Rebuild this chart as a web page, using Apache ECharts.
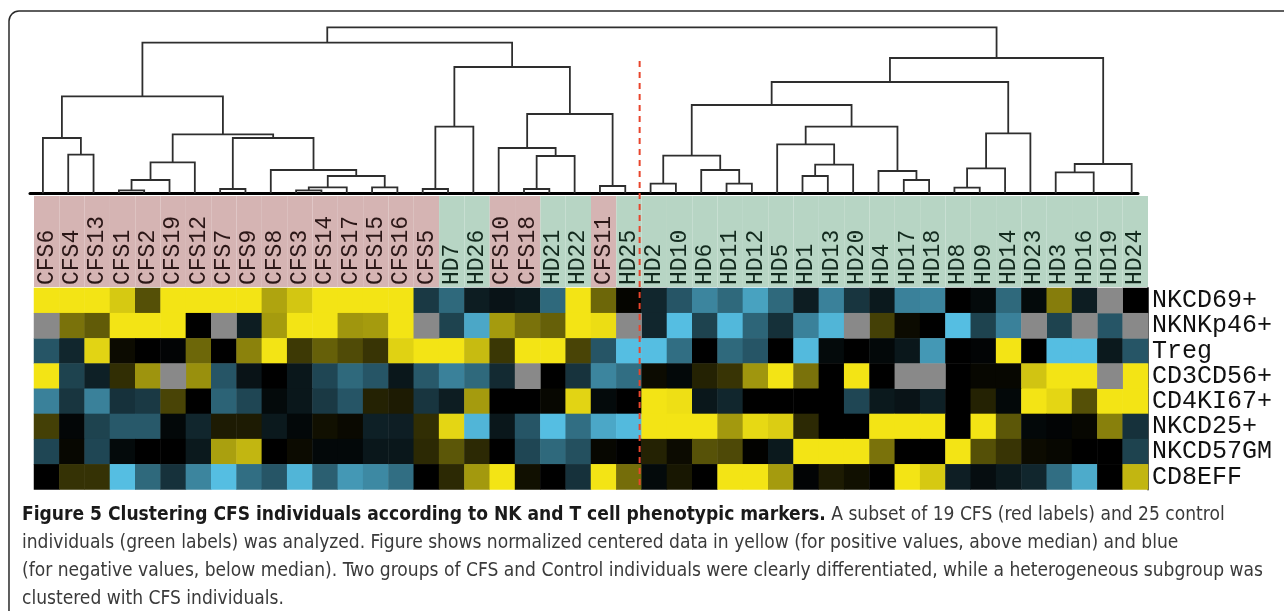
<!DOCTYPE html>
<html><head><meta charset="utf-8">
<script src="https://cdn.jsdelivr.net/npm/echarts@6/dist/echarts.min.js"></script>
<style>html,body{margin:0;padding:0;background:#fff}#c{width:1284px;height:611px}</style>
</head><body><div id="c"></div>
<script>
// ---------------- data ----------------
const samples = ['CFS6','CFS4','CFS13','CFS1','CFS2','CFS19','CFS12','CFS7','CFS9','CFS8','CFS3','CFS14','CFS17','CFS15','CFS16','CFS5','HD7','HD26','CFS10','CFS18','HD21','HD22','CFS11','HD25',
  'HD2','HD10','HD6','HD11','HD12','HD5','HD1','HD13','HD20','HD4','HD17','HD18','HD8','HD9','HD14','HD23','HD3','HD16','HD19','HD24'];
const markers = ['NKCD69+','NKNKp46+','Treg','CD3CD56+','CD4KI67+','NKCD25+','NKCD57GM','CD8EFF'];
// centred values: -1 = strongest below median (blue), +1 = strongest above (yellow), null = missing (grey)
const NKCD69   = [1,1,1,0.88,0.35,1,1,1,1,0.72,0.87,1,1,1,1,-0.3,-0.55,-0.15,-0.1,-0.13,-0.55,1,0.45,0.02,-0.2,-0.45,-0.7,-0.55,-0.85,-0.55,-0.15,-0.68,-0.28,-0.13,-0.68,-0.7,0,-0.05,-0.55,-0.05,0.55,-0.15,null,0];
const NKNKp46  = [null,0.5,0.4,1,1,1,0,null,-0.15,0.68,1,1,0.66,0.68,1,null,-0.35,-0.88,0.68,0.5,0.42,1,0.97,null,-0.2,-1,-0.35,-0.97,-0.53,-0.25,-0.68,-0.95,null,0.28,0.05,0,-1,-0.35,-0.68,null,-0.35,null,-0.45,null];
const Treg     = [-0.45,-0.2,0.93,0.05,0,-0.02,0.45,0,0.57,1,0.25,0.42,0.33,0.23,0.92,1,1,0.82,0.24,1,1,0.3,-0.45,-1,-1,-0.58,0,-0.55,-0.45,0,-0.98,-0.05,0,-0.04,-0.12,-0.8,0,-0.02,1,0,-1,-1,-0.13,-0.45];
const CD3CD56  = [1,-0.35,-0.17,0.2,0.65,null,0.63,-0.45,-0.1,0,-0.12,-0.37,-0.55,-0.45,-0.12,-0.47,-0.68,-0.55,-0.22,null,0,-0.27,-0.7,-0.58,0.05,-0.04,0.15,0.23,0.66,1,0.5,0,1,0,null,null,0,0.03,0.03,0.86,1,1,null,1];
const CD4KI67  = [-0.68,-0.28,-0.68,-0.26,-0.3,0.3,0,-0.52,-0.37,-0.05,-0.12,-0.3,-0.45,0.15,0.12,-0.28,-0.15,0.68,0,0,0.03,0.93,-0.05,0,1,0.98,-0.12,-0.2,0,0,0,0,-0.37,-0.13,-0.1,-0.17,0,0.15,-0.04,1,0.94,0.35,1,1];
const NKCD25   = [0.28,-0.03,-0.35,-0.47,-0.47,-0.04,-0.2,0.12,0.12,-0.13,-0.04,0.07,0.04,-0.17,-0.16,0.2,0.94,-0.95,-0.12,-0.45,-1,-0.58,-0.88,-0.98,1,1,1,0.67,0.95,0.9,0.18,0,0,1,1,1,0,1,0.38,-0.04,-0.02,0.03,0.56,-0.26];
const NKCD57GM = [-0.37,0.03,-0.37,-0.05,0,0,-0.13,0.7,0.8,0,0.05,-0.04,-0.04,-0.12,-0.12,0.18,0.38,0.18,0,-0.37,-0.55,-0.42,0.03,0,0.15,0.05,0.36,0.32,0.01,-0.13,1,1,1,0.5,0,0,1,0.35,0.23,0.05,0.03,0,0,-0.35];
const CD8EFF   = [0,0.22,0.22,-1,-0.55,-0.26,-0.7,-1,-0.58,-0.45,-0.95,-0.5,-0.8,-0.72,-0.58,0,0.18,0.67,1,0.07,0,-0.26,1,0.48,-0.05,0.1,0,1,1,0.68,-0.02,0.12,0.07,0,1,0.88,-0.16,-0.07,-0.13,-0.2,-0.58,-0.9,0,0.8];
const rows = [NKCD69,NKNKp46,Treg,CD3CD56,CD4KI67,NKCD25,NKCD57GM,CD8EFF];

// dendrogram: leaf positions (in column units) and merges [childA, childB, height]
const leafCols = [0,1,2,3,4,5,6,7,8,9,10,11,12,13,14,15,16,17,18,19,20,21,22,23,24,25,26,27,28,29,30,31,32,33,34,35,36,37,38,39,40,41.5,43];
const merges = [
  [1,2,38.6],[0,43,55.3],[3,4,3],[45,5,13.3],[46,6,31],[7,8,4.3],[10,11,3],[49,12,6],[13,14,6],[50,51,17.3],
  [9,52,23.3],[48,53,55.3],[47,54,59],[44,55,97],[15,16,4.3],[57,17,66.6],[19,20,4.3],[59,21,37.3],[18,60,45.3],[22,23,7.3],
  [61,62,79.3],[58,63,126.3],[56,64,150.6],
  [24,25,9.6],[27,28,9.6],[26,67,23.3],[66,68,37.6],[30,31,17.3],[70,32,28.6],[29,71,49],[34,35,13.3],[33,73,22.3],
  [72,74,66.6],[69,75,88.3],[36,37,5.6],[77,38,25],[78,39,60],[76,79,111.3],[40,41,21],[81,42,29.3],[80,82,135.3],[65,83,166]
];

const captionBold = 'Figure 5 Clustering CFS individuals according to NK and T cell phenotypic markers.';
const captionLines = [
  ' A subset of 19 CFS (red labels) and 25 control',
  'individuals (green labels) was analyzed. Figure shows normalized centered data in yellow (for positive values, above median) and blue',
  '(for negative values, below median). Two groups of CFS and Control individuals were clearly differentiated, while a heterogeneous subgroup was',
  'clustered with CFS individuals.'
];

// ---------------- build ----------------
const heat = [], missing = [];
rows.forEach((r, ri) => r.forEach((v, ci) => { if (v === null) missing.push([ci, ri, 0]); else heat.push([ci, ri, v]); }));

const nodeX = leafCols.slice(), nodeH = leafCols.map(() => 0);
const dendro = merges.map(([a, b, h]) => {
  const seg = { coords: [[nodeX[a], nodeH[a]], [nodeX[a], h], [nodeX[b], h], [nodeX[b], nodeH[b]]] };
  nodeX.push((nodeX[a] + nodeX[b]) / 2); nodeH.push(h);
  return seg;
});

const isCFS = s => s.indexOf('CFS') === 0;
const bandData = samples.map(s => ({
  value: 1, name: s,
  itemStyle: { color: isCFS(s) ? '#d5b4b3' : '#b7d5c4' },
  label: { color: isCFS(s) ? '#2b1717' : '#132a1e' }
}));

const mono = "'Liberation Mono','DejaVu Sans Mono',monospace";
const capFam = "'Liberation Sans Narrow','DejaVu Sans Condensed','Roboto Condensed',sans-serif";
function tw(str, font) { const c = document.createElement('canvas').getContext('2d'); c.font = font; return c.measureText(str).width; }
let capSize = 17;
capSize = capSize * 1242 / tw(captionLines[2], capSize + 'px ' + capFam);

const chart = echarts.init(document.getElementById('c'), null, { renderer: 'canvas' });
const HL = 34, HW = 1114;
chart.setOption({
  animation: false,
  backgroundColor: '#fff',
  grid: [
    { left: HL, width: HW, top: 288, height: 201.5 },
    { left: HL, width: HW, top: 196, height: 91 },
    { left: 30, width: 1108, top: 25.3, height: 168 }
  ],
  xAxis: [
    { gridIndex: 0, type: 'category', data: samples, show: false },
    { gridIndex: 1, type: 'category', data: samples, show: false },
    { gridIndex: 2, type: 'value', min: -0.51, max: 43.25, axisLine: { show: true, onZero: false, lineStyle: { color: '#000', width: 3 } },
      axisTick: { show: false }, axisLabel: { show: false }, splitLine: { show: false } }
  ],
  yAxis: [
    { gridIndex: 0, type: 'category', data: markers, inverse: true, position: 'right',
      axisLine: { show: true, lineStyle: { color: '#555', width: 2 } }, axisTick: { show: false },
      axisLabel: { interval: 0, fontFamily: mono, fontSize: 25, color: '#111', margin: 4 } },
    { gridIndex: 1, type: 'value', min: 0, max: 1, show: false },
    { gridIndex: 2, type: 'value', min: 0, max: 168, show: false }
  ],
  visualMap: { show: false, seriesIndex: 0, min: -1, max: 1, dimension: 2, inRange: { color: ['#55bee2', '#000000', '#f3e415'] } },
  series: [
    { type: 'heatmap', xAxisIndex: 0, yAxisIndex: 0, data: heat, silent: true, itemStyle: { borderWidth: 0 } },
    { type: 'heatmap', xAxisIndex: 0, yAxisIndex: 0, data: missing, silent: true, itemStyle: { color: '#898989', borderWidth: 0 } },
    { type: 'bar', xAxisIndex: 1, yAxisIndex: 1, data: bandData, barCategoryGap: '0%', silent: true,
      label: { show: true, position: 'insideBottom', rotate: 90, align: 'left', verticalAlign: 'middle', distance: 2,
        fontFamily: mono, fontSize: 23, formatter: p => p.name } },
    { type: 'lines', coordinateSystem: 'cartesian2d', xAxisIndex: 2, yAxisIndex: 2, polyline: true, silent: true,
      lineStyle: { color: '#2e2e2e', width: 1.8, opacity: 1 }, data: dendro }
  ]
});

const a = chart.convertToPixel({ xAxisIndex: 0 }, samples[23]);
const b = chart.convertToPixel({ xAxisIndex: 0 }, samples[24]);
const sepX = (a + b) / 2 - 2;
const capY = [515, 543, 571, 599];
chart.setOption({
  graphic: [
    { type: 'rect', z: 100, silent: true, shape: { x: 9, y: 11, width: 1300, height: 660, r: 10 }, style: { fill: 'none', stroke: '#2a2a2a', lineWidth: 1.5 } },
    { type: 'line', z: 100, silent: true, shape: { x1: sepX, y1: 61, x2: sepX, y2: 490 }, style: { stroke: '#e8452c', lineWidth: 2, lineDash: [6, 5] } },
    { type: 'text', z: 100, silent: true, x: 22, y: capY[0], style: {
        text: '{b|' + captionBold + '}{n|' + captionLines[0] + '}', verticalAlign: 'middle',
        rich: { b: { fontFamily: capFam, fontWeight: 'bold', fontSize: capSize, fill: '#1a1a1a' },
                n: { fontFamily: capFam, fontSize: capSize, fill: '#3a3a3a' } } } },
    ...[1, 2, 3].map(i => ({ type: 'text', z: 100, silent: true, x: 22, y: capY[i], style: {
        text: captionLines[i], verticalAlign: 'middle', fontFamily: capFam, fontSize: capSize, fill: '#3a3a3a' } }))
  ]
});
</script></body></html>
